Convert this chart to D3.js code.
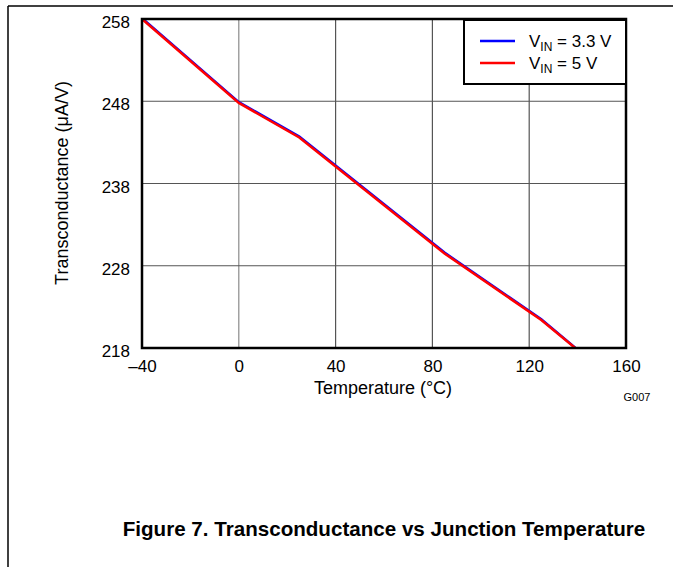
<!DOCTYPE html>
<html>
<head>
<meta charset="utf-8">
<script src="https://cdn.jsdelivr.net/npm/d3@7"></script>
<style>
  body { margin: 0; background: #fff; }
  text { font-family: "Liberation Sans", Arial, sans-serif; fill: #000; }
</style>
</head>
<body>
<div id="chart"></div>
<script>
// Data
const temps = [-40, 0, 25, 85, 125, 139];
const gmVin33 = [258.1, 247.9, 243.7, 229.6, 221.5, 218.05];
const gmVin5 = [258.0, 247.8, 243.6, 229.5, 221.4, 218.0];
const xTicks = [-40, 0, 40, 80, 120, 160];
const yTicks = [218, 228, 238, 248, 258];
const seriesNames = ["3.3 V", "5 V"];
const seriesColors = ["#0000ff", "#ff0000"];

const W = 673, H = 567;
const margin = { top: 19, right: 47, bottom: 219, left: 142 };
const iw = W - margin.left - margin.right;
const ih = H - margin.top - margin.bottom;

const svg = d3.select("#chart").append("svg")
    .attr("width", W)
    .attr("height", H);

// page frame (top and left edges)
svg.append("line").attr("x1", 8).attr("y1", 6).attr("x2", W).attr("y2", 6)
    .attr("stroke", "#000").attr("stroke-width", 1.5);
svg.append("line").attr("x1", 8).attr("y1", 6).attr("x2", 8).attr("y2", H)
    .attr("stroke", "#000").attr("stroke-width", 1.5);

const g = svg.append("g").attr("transform", `translate(${margin.left},${margin.top})`);

const x = d3.scaleLinear().domain([-40, 160]).range([0, iw]);
const y = d3.scaleLinear().domain([218, 258]).range([ih, 0]);

// grid
g.append("g").selectAll("line").data(xTicks.slice(1, -1)).enter().append("line")
    .attr("x1", d => x(d)).attr("x2", d => x(d))
    .attr("y1", 0).attr("y2", ih)
    .attr("stroke", (d, i) => i === 0 ? "#8a8a8a" : "#555")
    .attr("stroke-width", 1.2);
g.append("g").selectAll("line").data(yTicks.slice(1, -1)).enter().append("line")
    .attr("x1", 0).attr("x2", iw)
    .attr("y1", d => y(d)).attr("y2", d => y(d))
    .attr("stroke", "#555")
    .attr("stroke-width", 1.2);

// axes (labels only)
const fmt = d => d < 0 ? "\u2013" + Math.abs(d) : String(d);
const xAxis = g.append("g").attr("transform", `translate(0,${ih})`)
    .call(d3.axisBottom(x).tickValues(xTicks).tickFormat(fmt).tickSize(0).tickPadding(12));
const yAxis = g.append("g")
    .call(d3.axisLeft(y).tickValues(yTicks).tickSize(0).tickPadding(12));
[xAxis, yAxis].forEach(a => {
    a.select(".domain").remove();
    a.selectAll("text").style("font-size", "17px").style("font-family", "'Liberation Sans', Arial, sans-serif").attr("fill", "#000");
});
yAxis.selectAll("text").attr("dy", "0.5em");

// lines
const clipId = "plot-clip";
g.append("clipPath").attr("id", clipId).append("rect").attr("width", iw).attr("height", ih);
const line = d3.line().x(d => x(d[0])).y(d => y(d[1]));
[gmVin33, gmVin5].forEach((vals, i) => {
    g.append("path")
        .datum(temps.map((t, k) => [t, vals[k]]))
        .attr("clip-path", `url(#${clipId})`)
        .attr("fill", "none")
        .attr("stroke", seriesColors[i])
        .attr("stroke-width", 2.5)
        .attr("d", line);
});

// plot border
g.append("rect").attr("width", iw).attr("height", ih)
    .attr("fill", "none").attr("stroke", "#000").attr("stroke-width", 2.5);

// legend
const lg = g.append("g").attr("transform", `translate(322,1)`);
const lw = iw - 322, lh = 64;
lg.append("rect").attr("width", lw).attr("height", lh)
    .attr("fill", "#fff").attr("stroke", "#000").attr("stroke-width", 2);
seriesNames.forEach((name, i) => {
    const ly = 21 + i * 22;
    lg.append("line").attr("x1", 16).attr("x2", 51).attr("y1", ly).attr("y2", ly)
        .attr("stroke", seriesColors[i]).attr("stroke-width", 2.5);
    const t = lg.append("text").attr("x", 65).attr("y", ly + 5.5).style("font-size", "17px");
    t.append("tspan").text("V");
    t.append("tspan").text("IN").style("font-size", "12px").attr("dy", 4);
    t.append("tspan").text(" = " + name).attr("dy", -4);
});

// axis titles
g.append("text")
    .attr("x", iw / 2 - 1).attr("y", ih + 46)
    .attr("text-anchor", "middle").style("font-size", "18px")
    .text("Temperature (\u00b0C)");
g.append("text")
    .attr("transform", "rotate(-90)")
    .attr("x", -(183 - margin.top)).attr("y", -74)
    .attr("text-anchor", "middle").style("font-size", "18px")
    .text("Transconductance (\u03bcA/V)");
g.append("text")
    .attr("x", iw + 11).attr("y", ih + 53)
    .attr("text-anchor", "middle").style("font-size", "11px")
    .text("G007");

// caption
svg.append("text")
    .attr("x", 384).attr("y", 536)
    .attr("text-anchor", "middle")
    .style("font-size", "20.6px").style("font-weight", "bold")
    .text("Figure 7. Transconductance vs Junction Temperature");
</script>
</body>
</html>
